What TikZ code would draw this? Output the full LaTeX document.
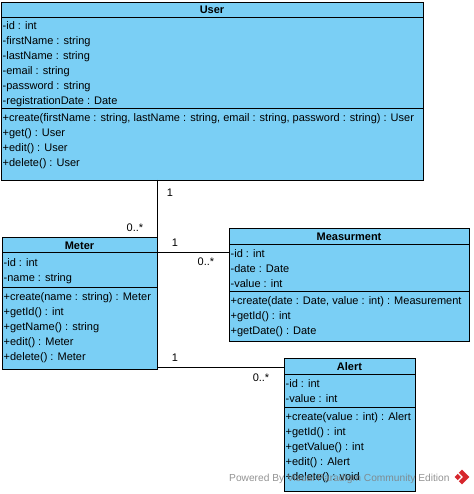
\documentclass[tikz,border=0pt]{standalone}
\usepackage{fontspec}
\setmainfont{Liberation Sans}
\definecolor{classfill}{RGB}{122,207,245}
\definecolor{wmgray}{RGB}{128,128,128}
\definecolor{logored}{RGB}{214,38,44}
\tikzset{
  classbox/.style={draw=black, fill=classfill, line width=0.9pt, inner sep=0pt, outer sep=0pt, anchor=north west},
  rowtxt/.style={anchor=base west, inner sep=0pt, font=\fontsize{11}{13}\selectfont},
  titletxt/.style={anchor=base, inner sep=0pt, font=\fontsize{11}{13}\selectfont\bfseries},
  multtxt/.style={anchor=base, inner sep=0pt, font=\fontsize{11}{13}\selectfont},
  sepline/.style={draw=black, line width=0.9pt},
  assoc/.style={draw=black, line width=0.9pt},
  wmtxt/.style={anchor=base west, inner sep=0pt, text=wmgray, text opacity=0.85, font=\fontsize{10.2}{12}\selectfont}
}
\newcommand\umlrows[4]{\foreach \t [count=\i] in {#4} {\node[rowtxt] (#1-\i) at (#2, {#3+(\i-1)*15+4}) {\t};}}
\begin{document}
\begin{tikzpicture}[x=1pt,y=-1pt]
\useasboundingbox (0,0) rectangle (473,494);
% ---------- User ----------
\node[classbox, minimum width=422pt, minimum height=178pt] (user) at (1,2) {};
\node[titletxt] (user-t) at (212,14) {User};
\draw[sepline] (user.west |- 0,17.5) -- (user.east |- 0,17.5);
\umlrows{user-a}{2.5}{26}{-id : int, -firstName : string, -lastName : string, -email : string, -password : string, -registrationDate : Date}
\draw[sepline] (user.west |- 0,108.5) -- (user.east |- 0,108.5);
\umlrows{user-m}{2.5}{117.5}{{+create(firstName : string, lastName : string, email : string, password : string) : User}, +get() : User, +edit() : User, +delete() : User}
% ---------- Meter ----------
\node[classbox, minimum width=155pt, minimum height=132pt] (meter) at (2,237) {};
\node[titletxt] (meter-t) at (79.5,249) {Meter};
\draw[sepline] (meter.west |- 0,252.5) -- (meter.east |- 0,252.5);
\umlrows{meter-a}{3.5}{262}{-id : int, -name : string}
\draw[sepline] (meter.west |- 0,287) -- (meter.east |- 0,287);
\umlrows{meter-m}{3.5}{296.5}{{+create(name : string) : Meter}, +getId() : int, +getName() : string, +edit() : Meter, +delete() : Meter}
% ---------- Measurment ----------
\node[classbox, minimum width=240pt, minimum height=113pt] (meas) at (229,228) {};
\node[titletxt] (meas-t) at (349,240) {Measurment};
\draw[sepline] (meas.west |- 0,244) -- (meas.east |- 0,244);
\umlrows{meas-a}{230.5}{253}{-id : int, -date : Date, -value : int}
\draw[sepline] (meas.west |- 0,291) -- (meas.east |- 0,291);
\umlrows{meas-m}{230.5}{300.5}{{+create(date : Date, value : int) : Measurement}, +getId() : int, +getDate() : Date}
% ---------- Alert ----------
\node[classbox, minimum width=131pt, minimum height=133pt] (alert) at (284,358) {};
\node[titletxt] (alert-t) at (349.5,370) {Alert};
\draw[sepline] (alert.west |- 0,374) -- (alert.east |- 0,374);
\umlrows{alert-a}{285.5}{383}{-id : int, -value : int}
\draw[sepline] (alert.west |- 0,407.5) -- (alert.east |- 0,407.5);
\umlrows{alert-m}{285.5}{416.5}{{+create(value : int) : Alert}, +getId() : int, +getValue() : int, +edit() : Alert, +delete() : void}
% ---------- Associations ----------
\draw[assoc] (meter.north east |- user.south) -- (meter.north east);
\node[multtxt] (m1a) at (170,196) {1};
\node[multtxt] (m1b) at (135,231) {0..*};
\coordinate (mmy) at (0,252.5);
\draw[assoc] (meter.east |- mmy) -- (meas.west |- mmy);
\node[multtxt] (m2a) at (175,246) {1};
\node[multtxt] (m2b) at (206,265) {0..*};
\coordinate (may) at (0,367);
\draw[assoc] (meter.east |- may) -- (alert.west |- may);
\node[multtxt] (m3a) at (175,361) {1};
\node[multtxt] (m3b) at (261,381) {0..*};
% ---------- Watermark ----------
\node[wmtxt] (wm) at (229,481) {Powered By Visual Paradigm Community Edition};
\node[draw=none, fill=logored, shape=rectangle, rotate=45, minimum size=10.5pt, inner sep=0pt] (logo) at (462,477) {};
\draw[white, line width=1.3pt] (logo.west) -- (logo.center) -- (logo.north);
\end{tikzpicture}
\end{document}
